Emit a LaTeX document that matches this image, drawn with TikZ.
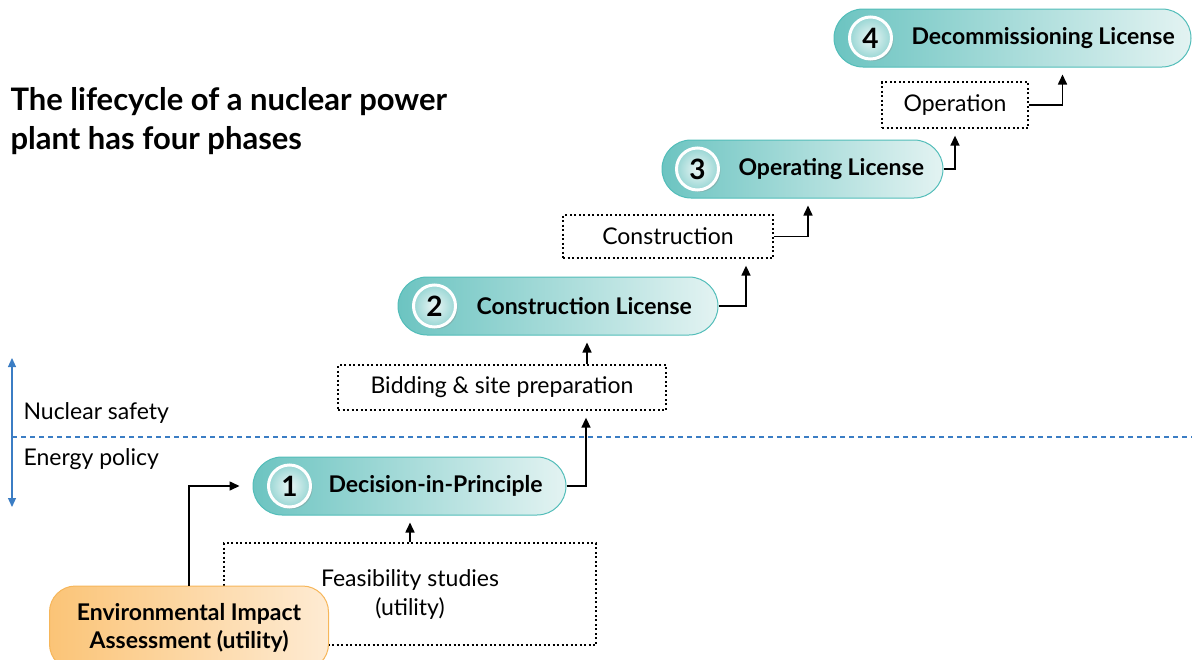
\documentclass[tikz,border=0pt]{standalone}
\usepackage{fontspec}
\setmainfont{Lato}
\usetikzlibrary{positioning,arrows.meta,shadows}

\definecolor{tealdark}{HTML}{6CC4C1}
\definecolor{teallight}{HTML}{E3F3F2}
\definecolor{tealline}{HTML}{52BDB9}
\definecolor{orgdark}{HTML}{FBC477}
\definecolor{orglight}{HTML}{FEEBD3}
\definecolor{orgline}{HTML}{F6B65A}
\definecolor{policyblue}{HTML}{3B7DC4}

\tikzset{
phase/.style={rounded corners=29pt, draw=tealline, line width=1pt, left color=tealdark, right color=teallight, minimum height=58pt},
num/.style={circle, draw=white, line width=3pt, inner color=teallight!70!white, outer color=tealdark!70, minimum size=42pt, inner sep=0pt, font=\fontsize{28}{28}\selectfont\bfseries, drop shadow={opacity=0.3, shadow xshift=2pt, shadow yshift=-2pt}},
lbl/.style={font=\fontsize{23}{27}\selectfont\bfseries},
work/.style={draw, dash pattern=on 2pt off 2.5pt, line width=1.3pt, font=\fontsize{23}{29}\selectfont, align=center},
flow/.style={-{Triangle[length=10pt,width=9pt]}, line width=1.6pt, shorten >=7pt},
}

\begin{document}
\begin{tikzpicture}[x=1pt,y=-1pt]
\useasboundingbox (0,0) rectangle (1192,659);

% title
\node[anchor=north west, align=left, font=\fontsize{31}{39}\selectfont\bfseries] (title) at (7,84) {The lifecycle of a nuclear power\\plant has four phases};

% policy scale
\coordinate (top) at (12,358);
\coordinate (bot) at (12,507);
\draw[{Triangle[length=9pt,width=8pt]}-{Triangle[length=9pt,width=8pt]}, policyblue, line width=1.2pt] (top) -- (bot);
\coordinate (d1) at (12,437);
\coordinate (d2) at (1192,437);
\draw[policyblue, line width=1.1pt, dash pattern=on 5pt off 4pt] (d1) -- (d2);
\node[anchor=west, font=\fontsize{23}{27}\selectfont] (safety) at (20,413) {Nuclear safety};
\node[anchor=west, font=\fontsize{23}{27}\selectfont] (policy) at (20,459) {Energy policy};

% phases
\node[phase, minimum width=313pt] (p1) at (409.5,486) {};
\node[num] (c1) at ([xshift=37pt]p1.west) {1};
\node[lbl, right=13pt of c1] (t1) {Decision-in-Principle};

\node[phase, minimum width=320pt] (p2) at (558,306) {};
\node[num] (c2) at ([xshift=37pt]p2.west) {2};
\node[lbl, right=16pt of c2] (t2) {Construction License};

\node[phase, minimum width=281pt] (p3) at (802.5,169) {};
\node[num] (c3) at ([xshift=36pt]p3.west) {3};
\node[lbl, right=15pt of c3] (t3) {Operating License};

\node[phase, minimum width=357pt] (p4) at (1012.5,38) {};
\node[num] (c4) at ([xshift=37pt]p4.west) {4};
\node[lbl, right=15pt of c4] (t4) {Decommissioning License};

% work in between
\node[work, minimum width=372pt, minimum height=102pt] (fs) at (410,594) {Feasibility studies\\(utility)};
\node[work, minimum width=328pt, minimum height=45pt] (bid) at (502,387.5) {Bidding \& site preparation};
\node[work, minimum width=210pt, minimum height=43pt] (con) at (668,236.5) {Construction};
\node[work, minimum width=146pt, minimum height=46pt] (op) at (955,105) {Operation};

% utility assessment
\node[rounded corners=26pt, draw=orgline, line width=1pt, left color=orgdark, right color=orglight, minimum width=279pt, minimum height=84pt, align=center, font=\fontsize{23}{28}\selectfont\bfseries] (eia) at (189,628) {Environmental Impact\\Assessment (utility)};

% connectors
\draw[flow, shorten >=13pt] (eia.north) |- (p1.west);
\draw[flow] (fs.north) -- (fs.north |- p1.south);
\draw[flow] (p1.east) -| ([xshift=84pt]bid.south);
\draw[flow] ([xshift=85pt]bid.north) -- ([xshift=85pt]bid.north |- p2.south);
\draw[flow] (p2.east) -| ([xshift=78pt]con.south);
\draw[flow] (con.east) -| ([xshift=5.5pt]p3.south);
\draw[flow] (p3.east) -| (op.south);
\draw[flow] (op.east) -| ([xshift=50pt]p4.south);
\end{tikzpicture}
\end{document}
